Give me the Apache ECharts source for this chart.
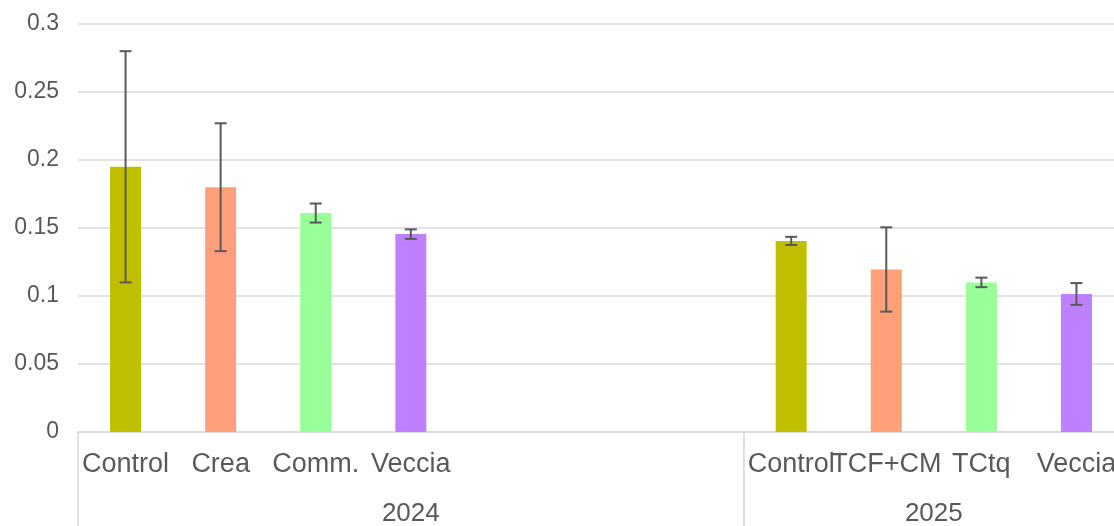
<!DOCTYPE html>
<html>
<head>
<meta charset="utf-8">
<script src="https://cdn.jsdelivr.net/npm/echarts@6/dist/echarts.min.js"></script>
<style>
html,body{margin:0;padding:0;background:#fff;}
#chart{width:1114px;height:526px;}
</style>
</head>
<body>
<div id="chart"></div>
<script>
// ---- data ----
const categories = ['Control','Crea','Comm.','Veccia','','','','Control','TCF+CM','TCtq','Veccia'];
const means      = [0.195, 0.180, 0.161, 0.1455, null, null, null, 0.1405, 0.1195, 0.110, 0.1015];
const errors     = [0.085, 0.047, 0.007, 0.0035, null, null, null, 0.003, 0.031, 0.0035, 0.008];
const treatmentIndex = [0, 1, 2, 3, null, null, null, 0, 1, 2, 3];
const years      = ['2024', '2025'];
const groupSizes = [7, 4];
const yTicks     = [0, 0.05, 0.1, 0.15, 0.2, 0.25, 0.3];

// ---- styles ----
const palette = ['#BFBF00', '#FFA07A', '#99FF99', '#BF80FF'];
const textColor = '#595959';
const gridColor = '#D9D9D9';

// derived group boundaries / centers
const bounds = [0];
groupSizes.forEach(s => bounds.push(bounds[bounds.length - 1] + s));
const centers = groupSizes.map((s, i) => bounds[i] + s / 2);

const barData = means.map((v, i) => v == null ? null : {
  value: v,
  itemStyle: { color: palette[treatmentIndex[i]] }
});
const errData = [];
means.forEach((v, i) => { if (v != null) errData.push([i, v - errors[i], v + errors[i]]); });

const chart = echarts.init(document.getElementById('chart'));
chart.setOption({
  animation: false,
  backgroundColor: '#fff',
  grid: { left: 78, top: 24, bottom: 94, width: 1046, containLabel: false, outerBoundsMode: 'none' },
  xAxis: [
    {
      type: 'category',
      data: categories,
      position: 'bottom',
      axisLine: { show: true, lineStyle: { color: gridColor, width: 1.5 } },
      axisTick: { show: false },
      axisLabel: {
        interval: 0, color: textColor, fontFamily: 'Liberation Sans, Arial, sans-serif',
        fontSize: 27, margin: 19
      }
    },
    {
      type: 'value',
      min: 0,
      max: bounds[bounds.length - 1],
      position: 'bottom',
      axisLine: { show: false },
      splitLine: { show: false },
      axisTick: {
        show: true, length: 94, customValues: bounds,
        lineStyle: { color: gridColor, width: 1.5 }
      },
      axisLabel: {
        customValues: centers,
        formatter: v => { const k = centers.findIndex(c => Math.abs(c - v) < 1e-6); return k >= 0 ? years[k] : ''; },
        color: textColor, fontFamily: 'Liberation Sans, Arial, sans-serif',
        fontSize: 26, margin: 69
      }
    }
  ],
  yAxis: {
    type: 'value',
    min: yTicks[0],
    max: yTicks[yTicks.length - 1],
    interval: 0.05,
    axisLine: { show: false },
    axisTick: { show: false },
    splitLine: { lineStyle: { color: gridColor, width: 1.5 } },
    axisLabel: {
      color: textColor, fontFamily: 'Liberation Sans, Arial, sans-serif',
      fontSize: 23, margin: 19
    }
  },
  series: [
    {
      type: 'bar',
      xAxisIndex: 0,
      data: barData,
      barWidth: 31
    },
    {
      type: 'custom',
      xAxisIndex: 0,
      data: errData,
      z: 10,
      renderItem: function (params, api) {
        const x = api.value(0);
        const lo = api.coord([x, api.value(1)]);
        const hi = api.coord([x, api.value(2)]);
        const hw = 6;
        const style = { stroke: '#595959', lineWidth: 2 };
        return {
          type: 'group',
          children: [
            { type: 'line', shape: { x1: lo[0], y1: lo[1], x2: hi[0], y2: hi[1] }, style },
            { type: 'line', shape: { x1: lo[0] - hw, y1: lo[1], x2: lo[0] + hw, y2: lo[1] }, style },
            { type: 'line', shape: { x1: hi[0] - hw, y1: hi[1], x2: hi[0] + hw, y2: hi[1] }, style }
          ]
        };
      }
    }
  ]
});
</script>
</body>
</html>
